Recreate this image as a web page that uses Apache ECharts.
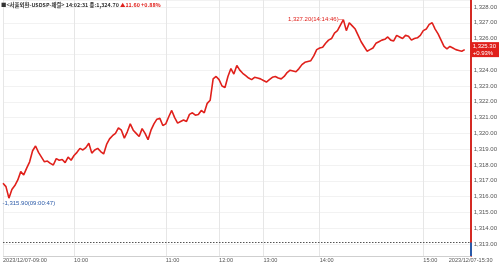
<!DOCTYPE html>
<html>
<head>
<meta charset="utf-8">
<script src="https://cdn.jsdelivr.net/npm/echarts@6/dist/echarts.min.js"></script>
<style>
html,body{margin:0;padding:0;background:#fff;}
#c{width:500px;height:263px;}
</style>
</head>
<body>
<div id="c"></div>
<script>
// ---- data ----
const titleMain = '■<서울외환-USDSP-체결> 14:02:31 종:1,324.70 ';
const titleChange = '▲11.60 +0.88%';
const prevClose = 1313.10;
const lastLabel = ['1,325.30', '+0.93%'];
const highTime = '14:14:46';
const lowTime = '09:00:47';
const tickLabels = ['2023/12/07-09:00', '10:00', '11:00', '12:00', '13:00', '14:00', '15:00', '2023/12/07-15:30'];
const tickIndex = [0, 24, 55, 73, 88, 107, 142, 158];
const prices = [
 1316.84,1316.63,1315.90,1316.45,1316.70,1317.05,1317.58,1317.37,1317.80,1318.20,
 1318.90,1319.20,1318.80,1318.50,1318.20,1318.25,1318.10,1318.00,1318.40,1318.30,
 1318.35,1318.15,1318.50,1318.30,1318.60,1318.80,1319.05,1318.95,1319.10,1319.37,
 1318.75,1318.95,1319.05,1318.85,1318.70,1319.30,1319.65,1319.85,1320.00,1320.35,
 1320.20,1319.70,1320.10,1320.60,1320.20,1320.00,1319.80,1320.30,1320.00,1319.60,
 1320.20,1320.60,1320.90,1320.95,1320.50,1320.60,1321.05,1321.45,1321.00,1320.65,
 1320.75,1320.85,1320.75,1321.20,1321.30,1321.15,1321.20,1321.45,1321.30,1321.90,
 1322.10,1323.45,1323.60,1323.40,1323.00,1322.90,1323.60,1324.10,1323.75,1324.30,
 1324.00,1323.80,1323.65,1323.50,1323.40,1323.55,1323.50,1323.45,1323.35,1323.25,
 1323.40,1323.55,1323.60,1323.50,1323.45,1323.60,1323.85,1324.00,1323.95,1323.90,
 1324.10,1324.35,1324.50,1324.55,1324.60,1324.90,1325.30,1325.40,1325.45,1325.70,
 1325.90,1326.00,1326.35,1326.50,1326.85,1327.20,1326.50,1327.00,1326.80,1326.60,
 1326.20,1325.80,1325.50,1325.20,1325.30,1325.40,1325.70,1325.80,1325.90,1325.95,
 1326.10,1325.90,1325.85,1326.20,1326.10,1326.00,1326.20,1326.15,1325.90,1326.00,
 1326.05,1326.20,1326.50,1326.60,1326.90,1327.00,1326.60,1326.30,1325.90,1325.50,
 1325.35,1325.50,1325.40,1325.30,1325.25,1325.20,1325.30,null,null
];
// ---- chart ----
const cats = prices.map((v, i) => String(i));
const valid = prices.map((v, i) => [v, i]).filter(p => p[0] !== null);
const hi = valid.reduce((a, b) => (b[0] > a[0] ? b : a));
const lo = valid.reduce((a, b) => (b[0] < a[0] ? b : a));
const last = valid[valid.length - 1];
const fmt = v => v.toLocaleString('en-US', {minimumFractionDigits: 2, maximumFractionDigits: 2});
const lastCat = prices.length - 1;
const yMin = 1312.24, yMax = 1328.44;
const FONT = '"Liberation Sans", Arial, sans-serif';
const CLEAR = 'rgba(0,0,0,0)';
const isInt = v => Math.abs(v - Math.round(v)) < 1e-6;

const chart = echarts.init(document.getElementById('c'), null, {renderer: 'canvas'});
chart.setOption({
  animation: false,
  backgroundColor: '#ffffff',
  title: {
    left: 0, top: 0, padding: [2, 1],
    text: '{a|' + titleMain + '}{b|' + titleChange + '}',
    textStyle: {
      rich: {
        a: {fontSize: 5.4, color: '#333', fontFamily: '"Noto Sans CJK KR", sans-serif'},
        b: {fontSize: 5.4, color: '#e0201b', fontFamily: '"Noto Sans CJK KR", sans-serif'}
      }
    }
  },
  grid: {left: 0, right: 26, top: 0, bottom: 7, containLabel: false},
  xAxis: {
    type: 'category', data: cats, boundaryGap: false,
    axisLine: {show: false},
    axisTick: {show: false},
    axisLabel: {
      interval: (i) => tickIndex.includes(i),
      formatter: (v, i) => { const k = tickIndex.indexOf(Number(v)); return k >= 0 ? tickLabels[k] : ''; },
      align: 'left', margin: 1, fontSize: 5.6, color: '#555', fontFamily: FONT,
      alignMaxLabel: 'center', showMaxLabel: true, showMinLabel: true
    },
    splitLine: {show: true, interval: (i) => tickIndex.includes(i), lineStyle: {color: '#e6e6e6', width: 1}}
  },
  yAxis: {
    type: 'value', position: 'right', min: yMin, max: yMax, splitNumber: 16,
    axisLine: {show: true, lineStyle: {color: '#d42a24', width: 2}},
    axisTick: {show: false},
    axisLabel: {
      margin: 3, fontSize: 6, color: '#555', fontFamily: FONT, align: 'left',
      showMinLabel: false, showMaxLabel: false,
      formatter: v => isInt(v) ? fmt(v) : ''
    },
    splitLine: {show: true, lineStyle: {color: '#f2f2f2', width: 1}}
  },
  series: [{
    type: 'line', data: prices, showSymbol: false, symbol: 'none',
    lineStyle: {color: '#e0201b', width: 1.6},
    z: 5,
    markLine: {
      silent: true, symbol: 'none', z: 10,
      data: [
        {yAxis: prevClose, lineStyle: {color: '#555', type: [1.5, 1.5], width: 1}, label: {show: false}},
        {yAxis: yMin, lineStyle: {color: '#cfcfcf', type: 'solid', width: 1}, label: {show: false}},
        [{coord: [String(lastCat), prevClose]}, {coord: [String(lastCat), yMin],
          lineStyle: {color: '#2b5aa8', type: 'solid', width: 2}, label: {show: false}}],
        {yAxis: last[0], lineStyle: {color: CLEAR, width: 1},
          label: {show: true, position: 'end', distance: 0,
            formatter: lastLabel.join('\n'), color: '#fff', backgroundColor: '#e0201b',
            fontSize: 6, lineHeight: 7, padding: [1, 3, 0, 2], fontFamily: FONT}}
      ]
    },
    markPoint: {
      silent: true, symbol: 'circle', symbolSize: 1, itemStyle: {color: CLEAR},
      data: [
        {coord: [String(hi[1]), hi[0]],
          label: {show: true, position: 'left', distance: 0, formatter: fmt(hi[0]) + '(' + highTime + ')─',
            color: '#e0201b', fontSize: 6, fontFamily: FONT}},
        {coord: [String(lo[1]), lo[0]],
          label: {show: true, position: [-6, 3], align: 'left', formatter: '-' + fmt(lo[0]) + '(' + lowTime + ')',
            color: '#2b5aa8', fontSize: 6, fontFamily: FONT}}
      ]
    }
  }]
});
</script>
</body>
</html>
